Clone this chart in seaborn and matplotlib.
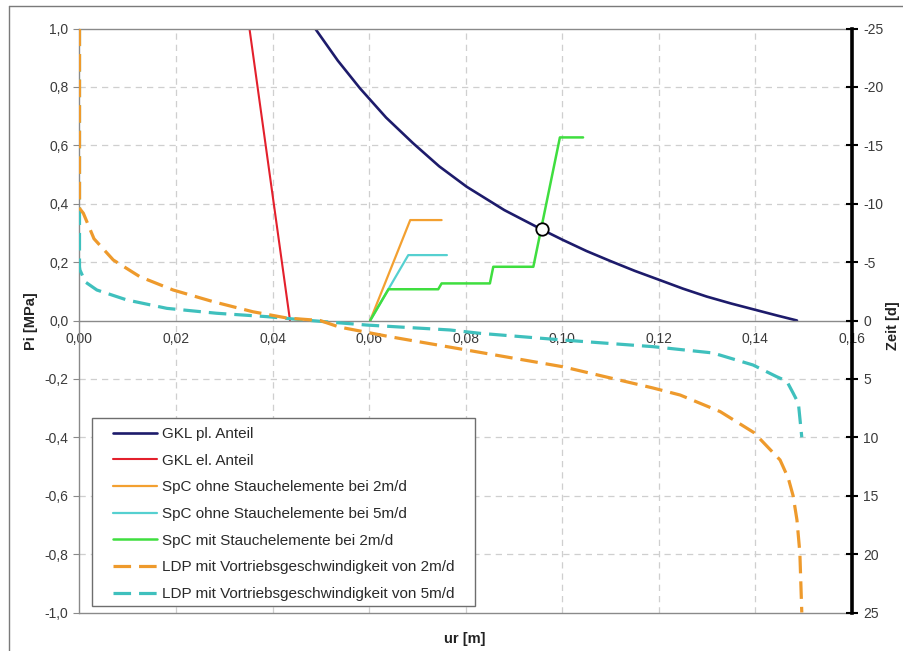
import matplotlib
matplotlib.use("Agg")
import matplotlib.pyplot as plt
from matplotlib.lines import Line2D
from matplotlib.patches import Rectangle
import seaborn as sns

# ---- data -----------------------------------------------------------------
# Ground reaction curve (GKL), plastic part: radial displacement ur [m] vs Pi [MPa]
gkl_pl_ur = [0.0488, 0.0535, 0.0581, 0.0635, 0.0691, 0.0745, 0.0802, 0.0880, 0.0957,
             0.1001, 0.1050, 0.1099, 0.1150, 0.1201, 0.1250, 0.1299, 0.1350, 0.1401,
             0.1445, 0.1486]
gkl_pl_pi = [1.000, 0.890, 0.795, 0.695, 0.607, 0.528, 0.458, 0.378, 0.312,
             0.276, 0.238, 0.204, 0.170, 0.139, 0.109, 0.082, 0.058, 0.036,
             0.017, 0.000]

# GKL elastic part
gkl_el_ur = [0.0352, 0.0436]
gkl_el_pi = [1.0, 0.0]

# Support characteristic curves (SpC)
spc2_ur = [0.0602, 0.0685, 0.0750]
spc2_pi = [0.0, 0.344, 0.344]
spc5_ur = [0.0602, 0.0681, 0.0761]
spc5_pi = [0.0, 0.224, 0.224]
spc_st_ur = [0.0602, 0.0640, 0.0743, 0.0750, 0.0850, 0.0857, 0.0940, 0.0995, 0.1043]
spc_st_pi = [0.0, 0.107, 0.107, 0.127, 0.127, 0.184, 0.184, 0.627, 0.627]

# Design point (intersection of GKL and SpC with yielding elements)
equil_ur = [0.0957]
equil_pi = [0.312]

# Longitudinal displacement profiles (LDP): ur [m] vs time [d]
ldp2_ur = [0.0, 0.0, 0.0008, 0.0030, 0.0070, 0.0125, 0.0194, 0.0277, 0.0359, 0.0430, 0.0498,
           0.0538, 0.0643, 0.0802, 0.1001, 0.1188, 0.1244, 0.1327, 0.1397, 0.1451, 0.1468,
           0.1478, 0.1486, 0.1492, 0.1496]
ldp2_t = [-25.0, -9.6, -9.18, -7.0, -5.18, -3.75, -2.61, -1.61, -0.75, -0.21, 0.0,
          0.56, 1.39, 2.53, 3.96, 5.78, 6.38, 7.8, 9.6, 11.94, 13.5,
          15.0, 17.08, 19.9, 25.0]
ldp5_ur = [0.0, 0.0, 0.0001, 0.0012, 0.0036, 0.0098, 0.0181, 0.0284, 0.0388, 0.0484, 0.0595,
           0.0767, 0.0830, 0.1001, 0.1188, 0.1312, 0.1395, 0.1444, 0.1465, 0.1478, 0.1489,
           0.1496]
ldp5_t = [-25.0, -4.6, -4.32, -3.3, -2.61, -1.76, -1.04, -0.62, -0.33, 0.02, 0.39,
          0.81, 1.10, 1.67, 2.24, 2.78, 3.81, 4.81, 5.2, 6.21, 7.09,
          10.0]

# Axis ticks and labels
x_ticks = [0.00, 0.02, 0.04, 0.06, 0.08, 0.10, 0.12, 0.14, 0.16]
x_labels = ["0,00", "0,02", "0,04", "0,06", "0,08", "0,10", "0,12", "0,14", "0,16"]
pi_ticks = [1.0, 0.8, 0.6, 0.4, 0.2, 0.0, -0.2, -0.4, -0.6, -0.8, -1.0]
pi_labels = ["1,0", "0,8", "0,6", "0,4", "0,2", "0,0", "-0,2", "-0,4", "-0,6", "-0,8", "-1,0"]
t_ticks = [-25, -20, -15, -10, -5, 0, 5, 10, 15, 20, 25]
t_labels = ["-25", "-20", "-15", "-10", "-5", "0", "5", "10", "15", "20", "25"]

labels = [
    "GKL pl. Anteil",
    "GKL el. Anteil",
    "SpC ohne Stauchelemente bei 2m/d",
    "SpC ohne Stauchelemente bei 5m/d",
    "SpC mit Stauchelemente bei 2m/d",
    "LDP mit Vortriebsgeschwindigkeit von 2m/d",
    "LDP mit Vortriebsgeschwindigkeit von 5m/d",
]

# ---- style ----------------------------------------------------------------
sns.set_theme(style="white")
plt.rcParams["font.family"] = ["Liberation Sans", "DejaVu Sans"]
plt.rcParams["font.size"] = 10

C_NAVY = "#1d1b6b"
C_RED = "#e3202c"
C_ORANGE = "#f3a030"
C_CYAN = "#55d0d0"
C_GREEN = "#3fde3f"
C_LDP2 = "#ee9a2c"
C_LDP5 = "#3fc0bd"
GRAY = "#8a8a8a"
TXT = "#3a3a3a"

W, H = 904, 651
fig = plt.figure(figsize=(W / 100, H / 100), dpi=100)
x0, x1, ytop, ybot = 79.5, 852.0, 28.5, 612.5
ax = fig.add_axes([x0 / W, 1 - ybot / H, (x1 - x0) / W, (ybot - ytop) / H])
ax2 = ax.twinx()

# ---- primary axis: Pi vs ur ----------------------------------------------
sns.lineplot(x=gkl_pl_ur, y=gkl_pl_pi, ax=ax, color=C_NAVY, lw=1.9, sort=False, estimator=None)
sns.lineplot(x=gkl_el_ur, y=gkl_el_pi, ax=ax, color=C_RED, lw=1.5, sort=False, estimator=None)
sns.lineplot(x=spc2_ur, y=spc2_pi, ax=ax, color=C_ORANGE, lw=1.6, sort=False, estimator=None)
sns.lineplot(x=spc5_ur, y=spc5_pi, ax=ax, color=C_CYAN, lw=1.6, sort=False, estimator=None)
sns.lineplot(x=spc_st_ur, y=spc_st_pi, ax=ax, color=C_GREEN, lw=1.8, sort=False, estimator=None)
sns.scatterplot(x=equil_ur, y=equil_pi, ax=ax, s=80, facecolor="white", edgecolor="black",
                linewidth=1.3, zorder=6)

ax.set_xlim(0.0, 0.16)
ax.set_ylim(-1.0, 1.0)
ax.set_xticks(x_ticks)
ax.set_xticklabels(x_labels)
ax.set_yticks(pi_ticks)
ax.set_yticklabels(pi_labels)
ax.set_xlabel("")
ax.set_ylabel("")

# dashed grid, skipping the frame positions
for xv in x_ticks[1:-1]:
    ax.axvline(xv, color="#cfcfcf", lw=0.9, dashes=(5, 4), zorder=0)
for yv in pi_ticks:
    if yv not in (1.0, 0.0, -1.0):
        ax.axhline(yv, color="#cfcfcf", lw=0.9, dashes=(5, 4), zorder=0)

# x axis crosses at Pi = 0
ax.spines["bottom"].set_position(("data", 0.0))
for s in ("bottom", "left", "top"):
    ax.spines[s].set_color(GRAY)
    ax.spines[s].set_linewidth(1.0)
ax.spines["right"].set_visible(False)
ax.axhline(-1.0, color=GRAY, lw=1.0, clip_on=False, zorder=3)
ax.tick_params(axis="x", direction="inout", length=5, width=0.8, color=GRAY,
               labelcolor=TXT, labelsize=10, pad=6)
ax.tick_params(axis="y", direction="out", length=4, width=0.8, color=GRAY,
               labelcolor=TXT, labelsize=10, pad=4)

# ---- secondary axis: time vs ur -------------------------------------------
sns.lineplot(x=ldp5_ur, y=ldp5_t, ax=ax2, color=C_LDP5, lw=2.3, sort=False, estimator=None,
             zorder=3).lines[-1].set_dashes((5.5, 2.5))
sns.lineplot(x=ldp2_ur, y=ldp2_t, ax=ax2, color=C_LDP2, lw=2.3, sort=False, estimator=None,
             zorder=4).lines[-1].set_dashes((5.5, 2.5))
ax2.set_ylim(25, -25)
ax2.set_xlim(0.0, 0.16)
ax2.set_yticks(t_ticks)
ax2.set_yticklabels(t_labels)
ax2.set_ylabel("")
for s in ("top", "left", "bottom"):
    ax2.spines[s].set_visible(False)
ax2.spines["right"].set_color("black")
ax2.spines["right"].set_linewidth(2.6)
ax2.tick_params(axis="y", direction="inout", length=8, width=1.5, color="black",
                labelcolor=TXT, labelsize=10, pad=4)
ax2.grid(False)

# ---- legend ---------------------------------------------------------------
def px_ax(xp, yp):
    return ((xp - x0) / (x1 - x0), (ybot - yp) / (ybot - ytop))

bx0, by0 = px_ax(91.7, 606.0)
bx1, by1 = px_ax(475.0, 418.3)
ax2.add_patch(Rectangle((bx0, by0), bx1 - bx0, by1 - by0, transform=ax2.transAxes,
                        facecolor="white", edgecolor="#6e6e6e", lw=1.0, zorder=8))

handles = [
    Line2D([], [], color=C_NAVY, lw=1.9),
    Line2D([], [], color=C_RED, lw=1.5),
    Line2D([], [], color=C_ORANGE, lw=1.6),
    Line2D([], [], color=C_CYAN, lw=1.6),
    Line2D([], [], color=C_GREEN, lw=1.8),
    Line2D([], [], color=C_LDP2, lw=2.3, dashes=(5.5, 2.5)),
    Line2D([], [], color=C_LDP5, lw=2.3, dashes=(5.5, 2.5)),
]
lx, ly = px_ax(113.0, 427.0)
leg = ax2.legend(handles, labels, loc="upper left", bbox_to_anchor=(lx, ly),
                 frameon=False, borderpad=0.0, borderaxespad=0.0,
                 handlelength=2.9, handletextpad=0.3, labelspacing=0.83,
                 fontsize=11)
leg.set_zorder(9)
for t in leg.get_texts():
    t.set_color("#2a2a2a")

# ---- axis titles ----------------------------------------------------------
fig.text(31 / W, 1 - 321 / H, "Pi [MPa]", rotation=90, ha="center", va="center",
         fontsize=10.5, fontweight="bold", color="#222222")
fig.text(893 / W, 1 - 326 / H, "Zeit [d]", rotation=90, ha="center", va="center",
         fontsize=10.5, fontweight="bold", color="#222222")
fig.text(465 / W, 1 - 639 / H, "ur [m]", ha="center", va="center",
         fontsize=10.5, fontweight="bold", color="#222222")

# outer chart frame (left and top edges)
fig.add_artist(Line2D([9 / W, 9 / W], [0, 1 - 6 / H], transform=fig.transFigure,
                      color="#7a7a7a", lw=1.0))
fig.add_artist(Line2D([9 / W, 1], [1 - 6 / H, 1 - 6 / H], transform=fig.transFigure,
                      color="#7a7a7a", lw=1.0))

fig.savefig("out.png", dpi=100, facecolor="white")
